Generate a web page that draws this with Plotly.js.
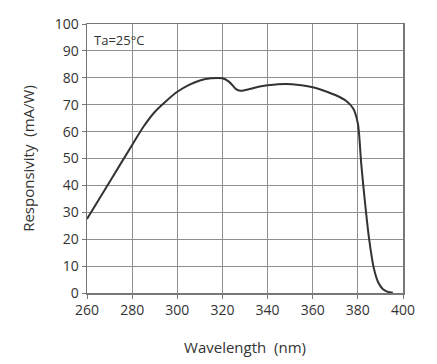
<!DOCTYPE html>
<html>
<head>
<meta charset="utf-8">
<script src="https://cdn.plot.ly/plotly-3.0.1.min.js"></script>
<style>html,body{margin:0;padding:0;background:#fff;}#chart{width:437px;height:364px;}</style>
</head>
<body>
<div id="chart"></div>
<script>
const wavelength = [260, 270, 280, 285, 290, 295, 300, 305, 310, 315, 320, 323, 326, 328, 332, 336, 340, 348, 355, 360, 365, 370, 375, 378, 380, 381.5, 383, 385, 387, 389, 391, 393, 395.5];
const responsivity = [27.5, 41.3, 55, 61.8, 67.3, 71.3, 74.8, 77.3, 79, 79.8, 79.8, 78.5, 75.8, 75.2, 75.8, 76.7, 77.2, 77.7, 77.2, 76.5, 75.2, 73.6, 71.3, 68.5, 63, 48, 35, 20, 9.5, 4, 1.5, 0.5, 0.1];
const xTicks = [260, 280, 300, 320, 340, 360, 380, 400];
const yTicks = [0, 10, 20, 30, 40, 50, 60, 70, 80, 90, 100];

const fam = 'Open Sans, Liberation Sans, sans-serif';
const tickFont = {family: fam, size: 14, color: '#333'};
const titleFont = {family: fam, size: 15, color: '#333'};
Plotly.newPlot('chart', [{
  x: wavelength, y: responsivity, type: 'scatter', mode: 'lines',
  line: {color: '#333', width: 2, shape: 'spline', smoothing: 0.8},
  hoverinfo: 'none'
}], {
  width: 437, height: 364,
  margin: {l: 87, r: 34, t: 24, b: 71},
  paper_bgcolor: '#fff', plot_bgcolor: '#fff',
  showlegend: false,
  font: tickFont,
  xaxis: {
    range: [260, 400], tickvals: xTicks, ticktext: xTicks.map(String),
    showgrid: true, gridcolor: '#8f8f8f', gridwidth: 1,
    showline: true, linecolor: '#777', linewidth: 1.5, mirror: true,
    zeroline: false, ticks: 'outside', ticklen: 4, tickcolor: '#777',
    tickfont: tickFont,
    title: {text: 'Wavelength  (nm)', font: titleFont, standoff: 24}
  },
  yaxis: {
    range: [0, 100], tickvals: yTicks, ticktext: yTicks.map(String),
    showgrid: true, gridcolor: '#8f8f8f', gridwidth: 1,
    showline: true, linecolor: '#777', linewidth: 1.5, mirror: true,
    zeroline: false, ticks: 'outside', ticklen: 4, tickcolor: '#777',
    tickfont: tickFont,
    title: {text: 'Responsivity  (mA/W)', font: titleFont, standoff: 16}
  },
  annotations: [{
    text: 'Ta=25°C', xref: 'paper', yref: 'paper', x: 0.015, y: 0.98,
    xanchor: 'left', yanchor: 'top', showarrow: false,
    font: {family: fam, size: 13, color: '#333'}
  }]
}, {staticPlot: true});
</script>
</body>
</html>
